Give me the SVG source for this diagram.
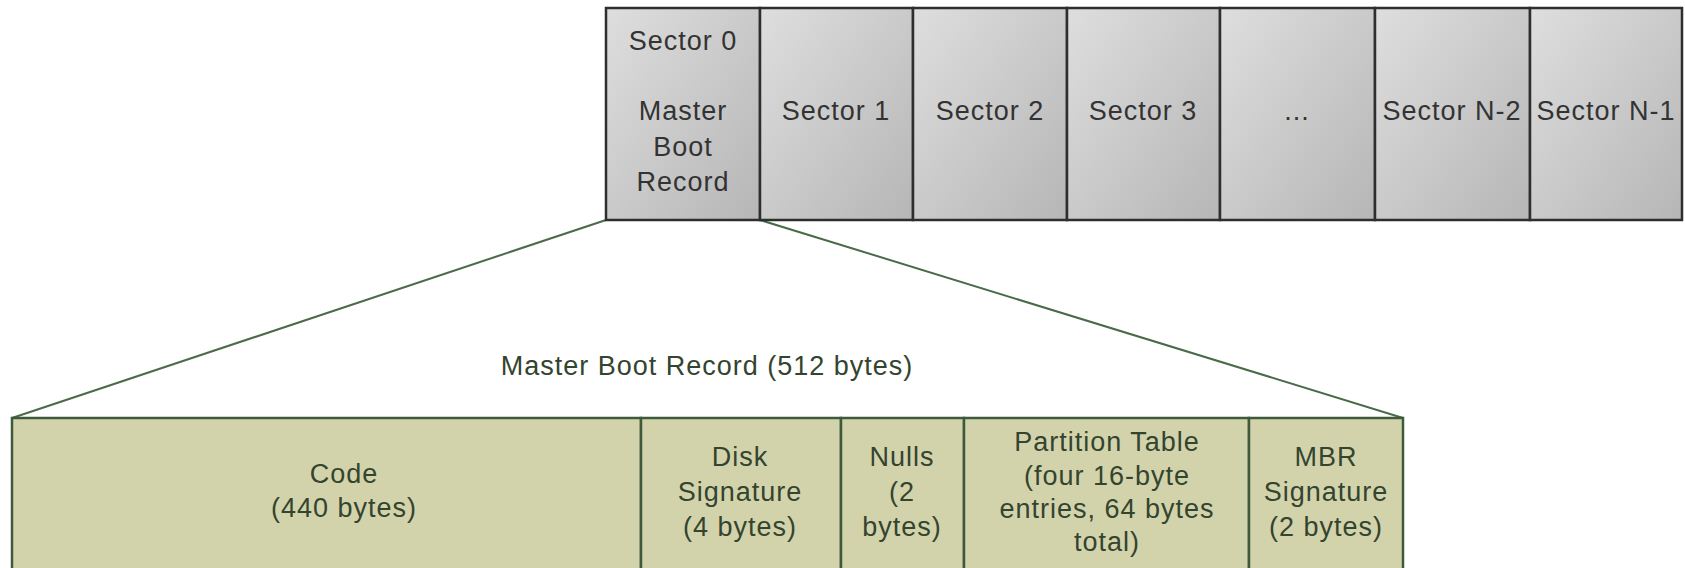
<svg xmlns="http://www.w3.org/2000/svg" width="1685" height="568" viewBox="0 0 1685 568">
<defs>
<linearGradient id="sg" x1="0" y1="0" x2="1" y2="1">
<stop offset="0" stop-color="#dedede"/>
<stop offset="1" stop-color="#b6b6b6"/>
</linearGradient>
<style>
.sec{fill:url(#sg);stroke:#2e2e2e;stroke-width:2.5}
.part{fill:#d3d3ab;stroke:#3d5a3d;stroke-width:2.5}
.tt{font-family:"Liberation Sans",Arial,sans-serif;font-size:27px;letter-spacing:1px;fill:#333;text-anchor:middle}
.bt{font-family:"Liberation Sans",Arial,sans-serif;font-size:27px;letter-spacing:1px;fill:#33442f;text-anchor:middle}
.conn{stroke:#4a6a4a;stroke-width:2;fill:none}
</style>
</defs>
<rect width="1685" height="568" fill="#ffffff"/>
<g id="connectors">
<line class="conn" x1="606" y1="220" x2="12" y2="418"/>
<line class="conn" x1="760" y1="220" x2="1403" y2="418"/>
</g>
<g id="sector0"><rect class="sec" x="606" y="8" width="154" height="212"/>
<text class="tt" x="683" y="50">Sector 0</text>
<text class="tt" x="683" y="120">Master</text>
<text class="tt" x="683" y="156">Boot</text>
<text class="tt" x="683" y="191">Record</text></g>
<g id="sector1"><rect class="sec" x="760" y="8" width="153" height="212"/><text class="tt" x="836" y="120">Sector 1</text></g>
<g id="sector2"><rect class="sec" x="913" y="8" width="154" height="212"/><text class="tt" x="990" y="120">Sector 2</text></g>
<g id="sector3"><rect class="sec" x="1067" y="8" width="153" height="212"/><text class="tt" x="1143" y="120">Sector 3</text></g>
<g id="sectordots"><rect class="sec" x="1220" y="8" width="155" height="212"/><text class="tt" x="1297" y="120">...</text></g>
<g id="sectorN2"><rect class="sec" x="1375" y="8" width="155" height="212"/><text class="tt" x="1452" y="120">Sector N-2</text></g>
<g id="sectorN1"><rect class="sec" x="1530" y="8" width="152" height="212"/><text class="tt" x="1606" y="120">Sector N-1</text></g>
<g id="mbr-label"><text class="bt" x="707" y="375">Master Boot Record (512 bytes)</text></g>
<g id="code"><rect class="part" x="12" y="418" width="629" height="170"/>
<text class="bt" x="344" y="483">Code</text>
<text class="bt" x="344" y="517">(440 bytes)</text></g>
<g id="disksig"><rect class="part" x="641" y="418" width="200" height="170"/>
<text class="bt" x="740" y="466">Disk</text>
<text class="bt" x="740" y="501">Signature</text>
<text class="bt" x="740" y="536">(4 bytes)</text></g>
<g id="nulls"><rect class="part" x="841" y="418" width="123" height="170"/>
<text class="bt" x="902" y="466">Nulls</text>
<text class="bt" x="902" y="501">(2</text>
<text class="bt" x="902" y="536">bytes)</text></g>
<g id="ptable"><rect class="part" x="964" y="418" width="285" height="170"/>
<text class="bt" x="1107" y="451">Partition Table</text>
<text class="bt" x="1107" y="485">(four 16-byte</text>
<text class="bt" x="1107" y="518">entries, 64 bytes</text>
<text class="bt" x="1107" y="551">total)</text></g>
<g id="mbrsig"><rect class="part" x="1249" y="418" width="154" height="170"/>
<text class="bt" x="1326" y="466">MBR</text>
<text class="bt" x="1326" y="501">Signature</text>
<text class="bt" x="1326" y="536">(2 bytes)</text></g>
</svg>
